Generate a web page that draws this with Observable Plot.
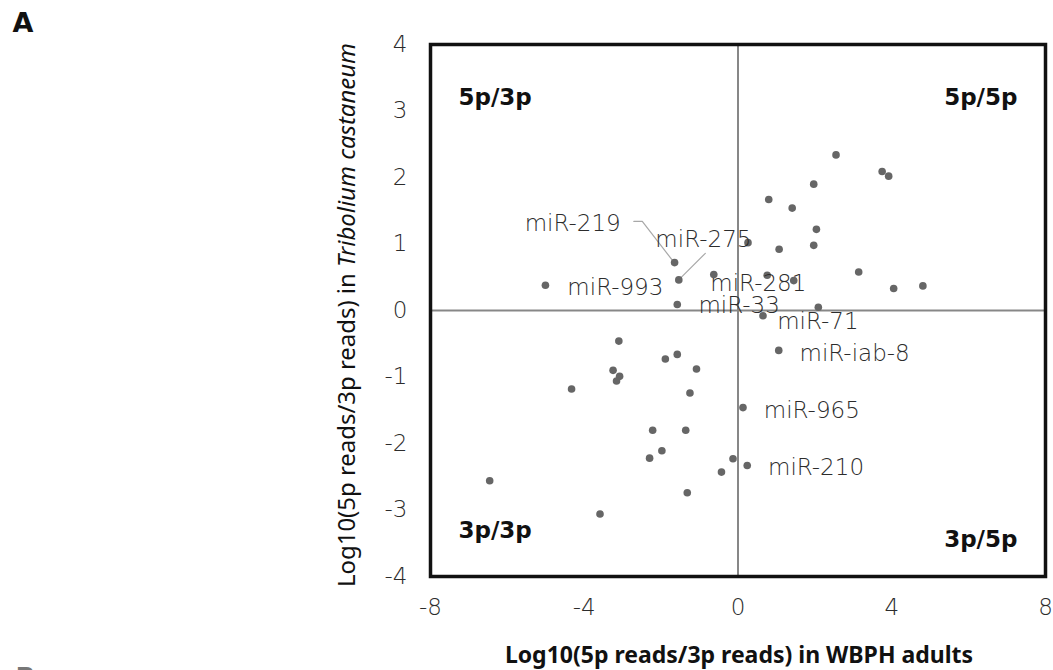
<!DOCTYPE html>
<html><head><meta charset="utf-8">
<script src="https://cdn.jsdelivr.net/npm/d3@7"></script>
<script src="https://cdn.jsdelivr.net/npm/@observablehq/plot@0.6"></script>
<style>body{margin:0;background:#fff;overflow:hidden}</style>
</head><body><div id="chart"></div>
<script>
// miRNA arm ratios: x = WBPH adults, y = Tribolium castaneum
const pointX = [-5.01,-1.65,-1.54,-0.63,-1.58,2.55,3.75,3.92,1.97,0.80,1.41,2.04,1.97,0.26,1.07,3.14,4.05,4.81,0.76,1.45,2.09,0.65,
  -3.10,-1.89,-1.58,-1.08,-3.25,-3.08,-3.16,-4.33,-1.25,-2.22,-1.36,-1.98,-2.30,-0.13,-0.43,-6.46,-1.32,-3.59,1.06,0.13,0.24];
const pointY = [0.38,0.72,0.46,0.54,0.09,2.34,2.09,2.02,1.90,1.67,1.54,1.22,0.98,1.02,0.92,0.58,0.33,0.37,0.53,0.45,0.05,-0.08,
  -0.46,-0.73,-0.66,-0.88,-0.90,-0.99,-1.06,-1.18,-1.24,-1.80,-1.80,-2.11,-2.22,-2.23,-2.43,-2.56,-2.74,-3.06,-0.60,-1.46,-2.33];

const labelNames = ["miR-219","miR-275","miR-993","miR-281","miR-33","miR-71","miR-iab-8","miR-965","miR-210"];
const labelX = [-5.55,-2.15,-4.44,-0.72,-1.03,1.02,1.60,0.67,0.78];
const labelY = [1.30,1.06,0.35,0.40,0.08,-0.17,-0.65,-1.50,-2.37];

const leaderName = ["miR-219","miR-219","miR-219","miR-275","miR-275"];
const leaderX = [-2.71,-2.49,-1.70,-0.85,-1.51];
const leaderY = [1.34,1.34,0.75,0.86,0.48];

const quadrantLabels = ["5p/3p","5p/5p","3p/3p","3p/5p"];
const xTicks = [-8,-4,0,4,8];
const yTicks = [-4,-3,-2,-1,0,1,2,3,4];

const points = pointX.map((x,i)=>({x, y: pointY[i]}));
const labels = labelNames.map((t,i)=>({t, x: labelX[i], y: labelY[i]}));
const leaders = leaderName.map((n,i)=>({n, x: leaderX[i], y: leaderY[i]}));

const lblFont = "DejaVu Sans";
const chart = Plot.plot({
  width: 1053, height: 670,
  marginLeft: 430, marginRight: 8, marginTop: 44, marginBottom: 94,
  style: {fontFamily: lblFont, fontSize: "23px", color: "#2c2c2c", background: "white"},
  x: {domain: [-8, 8]},
  y: {domain: [-4, 4]},
  marks: [
    Plot.axisX({ticks: xTicks, tickSize: 0, tickPadding: 22, tickFormat: d => String(d), label: null, fontSize: 23, fontWeight: 300, fill: "#2c2c2c"}),
    Plot.axisY({ticks: yTicks, tickSize: 0, tickPadding: 23, tickFormat: d => String(d), label: null, fontSize: 23, fontWeight: 300, fill: "#2c2c2c"}),
    Plot.ruleX([0], {stroke: "#878787", strokeWidth: 2}),
    Plot.ruleY([0], {stroke: "#878787", strokeWidth: 2}),
    Plot.line(leaders, {x: "x", y: "y", z: "n", stroke: "#a8a8a8", strokeWidth: 1.2}),
    Plot.dot(points, {x: "x", y: "y", r: 3.8, fill: "#666", stroke: null}),
    Plot.text(labels, {x: "x", y: "y", text: "t", textAnchor: "start", lineAnchor: "middle", fontSize: 23, fontWeight: 300, fill: "#2c2c2c"}),
    Plot.text([quadrantLabels[0]], {text: d => d, frameAnchor: "top-left", textAnchor: "start", lineAnchor: "middle", dx: 28, dy: 53.6, fontSize: 23, fontWeight: "bold", fill: "#111"}),
    Plot.text([quadrantLabels[1]], {text: d => d, frameAnchor: "top-right", textAnchor: "end", lineAnchor: "middle", dx: -28, dy: 53.6, fontSize: 23, fontWeight: "bold", fill: "#111"}),
    Plot.text([quadrantLabels[2]], {text: d => d, frameAnchor: "bottom-left", textAnchor: "start", lineAnchor: "middle", dx: 28, dy: -45.4, fontSize: 23, fontWeight: "bold", fill: "#111"}),
    Plot.text([quadrantLabels[3]], {text: d => d, frameAnchor: "bottom-right", textAnchor: "end", lineAnchor: "middle", dx: -28, dy: -37, fontSize: 23, fontWeight: "bold", fill: "#111"}),
    Plot.text(["Log10(5p reads/3p reads) in WBPH adults"], {text: d => d, frameAnchor: "bottom", textAnchor: "middle", lineAnchor: "middle", dx: 1, dy: 79.5, fontFamily: "Noto Sans", fontSize: 23, fontWeight: "bold", fill: "#111"}),
    Plot.text(["A"], {text: d => d, frameAnchor: "top-left", textAnchor: "start", lineAnchor: "middle", dx: -418, dy: -21.5, fontFamily: "DejaVu Sans", fontSize: 27, fontWeight: "bold", fill: "#111"}),
    Plot.text(["B"], {text: d => d, frameAnchor: "bottom-left", textAnchor: "start", lineAnchor: "middle", dx: -415, dy: 102, fontFamily: "DejaVu Sans", fontSize: 26, fontWeight: "bold", fill: "#777"}),
    Plot.frame({stroke: "#111", strokeWidth: 3.5})
  ]
});
document.getElementById("chart").appendChild(chart);

// y-axis title with italic species name
const svg = d3.select(chart.tagName.toLowerCase() === "svg" ? chart : chart.querySelector("svg"));
const yt = svg.append("text")
  .attr("transform", "translate(355,315) rotate(-90)")
  .attr("text-anchor", "middle")
  .attr("font-family", "Noto Sans")
  .attr("font-size", 23)
  .attr("fill", "#111")
  .attr("textLength", 544)
  .attr("lengthAdjust", "spacingAndGlyphs");
yt.append("tspan").text("Log10(5p reads/3p reads) in ");
yt.append("tspan").attr("font-style", "italic").text("Tribolium castaneum");
</script>
</body></html>
